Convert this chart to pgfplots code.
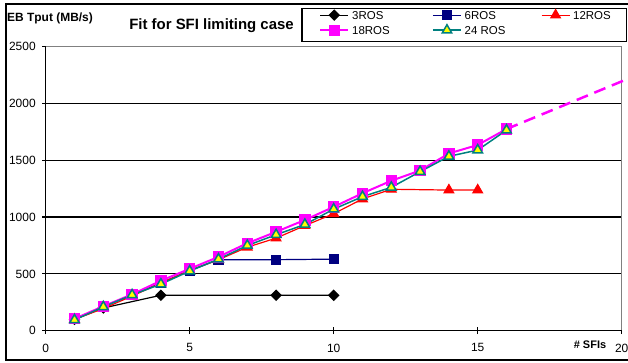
\documentclass[border=0pt]{standalone}
\usepackage{fontspec}
\setmainfont{Liberation Sans}
\usepackage{pgfplots}
\pgfplotsset{compat=1.18}
\definecolor{navyc}{RGB}{0,0,128}
\definecolor{tealc}{RGB}{0,128,128}
\definecolor{magc}{RGB}{255,0,255}
\definecolor{grayc}{RGB}{128,128,128}
\definecolor{yelc}{RGB}{255,255,0}
\begin{document}
\begin{tikzpicture}
\useasboundingbox (0,0) rectangle (628bp,363bp);
\draw[line width=2bp] (6bp,3bp) rectangle (640bp,358.5bp);
\draw[line width=1.2bp, fill=white] (302bp,321.3bp) rectangle (626.7bp,354.5bp);
\node[font=\bfseries\fontsize{15}{18}\selectfont] at (211.5bp,337bp) {Fit for SFI limiting case};
\node[font=\bfseries\fontsize{12}{14}\selectfont, anchor=west, inner sep=0pt] at (7bp,345bp) {EB Tput (MB/s)};
\node[font=\bfseries\fontsize{11}{13}\selectfont, inner sep=0pt] at (590bp,18.5bp) {\# SFIs};
\begin{axis}[
  at={(45.7bp,32.3bp)}, anchor=south west,
  scale only axis, width=576bp, height=284bp,
  xmin=0, xmax=20, ymin=0, ymax=2500,
  xtick={0,5,10,15,20}, ytick={0,500,1000,1500,2000,2500},
  axis x line=bottom, axis y line=left,
  axis line style={draw=none},
  clip=false,
  ymajorgrids, grid style={black, line width=1.2bp},
  major tick style={black, line width=1.2bp},
  tick align=center, major tick length=7bp,
  ticklabel style={font=\fontsize{12}{14}\selectfont},
  /pgf/number format/assume math mode=true,
  /pgf/number format/1000 sep={},
  xticklabel style={yshift=-6bp},
  yticklabel style={xshift=-3bp},
  legend columns=3,
  legend style={at={(0.4745,1.1338)}, anchor=north west, draw=none, fill=none,
    inner sep=0pt, row sep=2.6bp, font=\fontsize{11.5}{13}\selectfont,
    nodes={inner sep=0pt, anchor=west},
    /tikz/every odd column/.style={column sep=3bp}},
  legend image code/.code={\draw[mark repeat=2,mark phase=2] plot coordinates {(0bp,0bp) (14bp,0bp) (28bp,0bp)};},
]
\draw[grayc, line width=1.5bp] (axis cs:0,2500) -- (axis cs:20,2500) -- (axis cs:20,0);
\draw[black, line width=1.5bp] (axis cs:0,2500) -- (axis cs:0,0) -- (axis cs:20,0);

\addplot[black, line width=1.2bp, mark=square*, mark size=3.5bp, mark options={rotate=45, solid}]
 coordinates {(1,100)(2,200)(4,312)(8,312)(10,312)};
\addlegendentry{\makebox[80bp][l]{\rule[-3bp]{0pt}{14bp}3ROS}}
\addplot[navyc, line width=1.2bp, mark=square*, mark size=4.5bp]
 coordinates {(1,100)(2,210)(3,315)(4,420)(5,530)(6,625)(8,625)(10,630)};
\addlegendentry{\makebox[76.3bp][l]{\rule[-3bp]{0pt}{14bp}6ROS}}
\addplot[red, line width=1.2bp, mark=triangle*, mark size=5.5bp]
 coordinates {(1,100)(2,195)(3,305)(4,420)(5,530)(6,625)(7,735)(8,815)(9,925)(10,1030)(11,1160)(12,1245)(14,1238)(15,1238)};
\addlegendentry{\makebox[41bp][l]{\rule[-3bp]{0pt}{14bp}12ROS}}
\addplot[magc, line width=2bp, mark=square*, mark size=4.7bp]
 coordinates {(1,105)(2,215)(3,320)(4,440)(5,545)(6,650)(7,770)(8,870)(9,975)(10,1090)(11,1210)(12,1320)(13,1410)(14,1560)(15,1635)(16,1775)};
\addlegendentry{\makebox[80bp][l]{\rule[-3bp]{0pt}{14bp}18ROS}}
\addplot[tealc, line width=1.5bp, mark=triangle*, mark size=5.5bp, mark options={fill=yelc, draw=tealc, line width=1.5bp}]
 coordinates {(1,95)(2,210)(3,315)(4,410)(5,525)(6,630)(7,750)(8,845)(9,935)(10,1070)(11,1180)(12,1262)(13,1400)(14,1535)(15,1590)(16,1765)};
\addlegendentry{\makebox[76.3bp][l]{\rule[-3bp]{0pt}{14bp}24 ROS}}
\addplot[magc, line width=2.5bp, dash pattern=on 12bp off 7bp, forget plot]
 coordinates {(16,1775)(20.25,2221)};
\end{axis}
\end{tikzpicture}
\end{document}
